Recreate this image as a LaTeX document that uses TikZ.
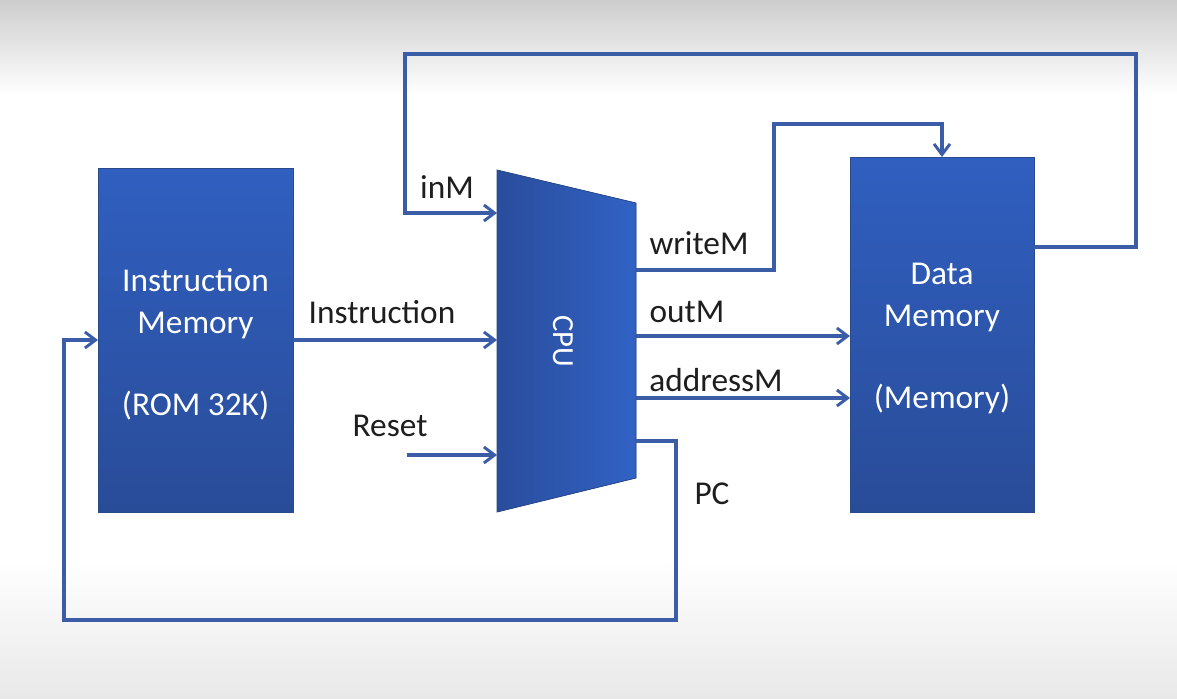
\documentclass[tikz,border=0pt]{standalone}
\usepackage{fontspec}
\setmainfont{Carlito}
\usetikzlibrary{arrows.meta,calc}
\definecolor{wire}{HTML}{3B5DA8}
\definecolor{boxtop}{HTML}{305FC0}
\definecolor{boxbot}{HTML}{294C98}
\definecolor{boxline}{HTML}{2A4A8C}
\definecolor{cpuL}{HTML}{2A4D9C}
\definecolor{cpuR}{HTML}{3162C4}
\definecolor{bgtop}{HTML}{CDCDCD}
\definecolor{bgbot}{HTML}{E8E8E8}
\definecolor{lbl}{HTML}{1E1E1E}
\tikzset{
  wire/.style={draw=wire,line width=2.4pt,line join=miter},
  arr/.style={wire,-{Straight Barb[length=8pt,width=12pt,line width=2.2pt]}},
  membox/.style={draw=boxline,line width=0.6pt,top color=boxtop,bottom color=boxbot,
    outer sep=0pt,inner sep=0pt},
  memtext/.style={text=white,align=center,inner sep=0pt,
    font=\fontsize{25}{31.5}\selectfont},
  lab/.style={text=lbl,font=\fontsize{25}{30}\selectfont,inner sep=0pt}
}
\begin{document}
\begin{tikzpicture}[x=0.75pt,y=-0.75pt]
\useasboundingbox (0,0) rectangle (1177,699);
\fill[white] (0,0) rectangle (1177,699);
\shade[top color=bgtop,bottom color=white] (0,0) rectangle (1177,95);
\shade[top color=white,bottom color=bgbot] (0,560) rectangle (1177,699);

% memories
\node[membox,minimum width=146.25pt,minimum height=258pt] (im) at (195.5,340) {};
\node[memtext] (imtext) at ($(im.center)+(0,4)$) {Instruction\\Memory\\[30pt](ROM 32K)};
\node[membox,minimum width=138pt,minimum height=266.25pt] (dm) at (942,334.5) {};
\node[memtext] (dmtext) at ($(dm.center)+(0,4)$) {Data\\Memory\\[30pt](Memory)};

% CPU
\coordinate (cpuNW) at (497,170);
\coordinate (cpuNE) at (636,203);
\coordinate (cpuSE) at (636,478);
\coordinate (cpuSW) at (497,512);
\fill[left color=cpuL,right color=cpuR,draw=boxline,line width=0.6pt]
  (cpuNW) -- (cpuNE) -- (cpuSE) -- (cpuSW) -- cycle;
\node[text=white,rotate=-90,font=\fontsize{23}{27}\selectfont] (cpu) at (563,341) {CPU};

% CPU ports
\coordinate (pInM) at (497,213);
\coordinate (pInstr) at (497,340);
\coordinate (pReset) at (497,455);
\coordinate (pWrite) at (636,270);
\coordinate (pOut) at (636,336);
\coordinate (pAddr) at (636,398);
\coordinate (pPC) at (636,441);
\coordinate (resetSrc) at (407,455);

% wires
\draw[arr] ($(dm.north east)+(0,90)$) -| (1136,54) -| (405,213) -- (pInM);
\draw[arr] (pWrite) -| (774,124) -| (dm.north);
\draw[arr] (pOut) -- (dm.west |- pOut);
\draw[arr] (pAddr) -- (dm.west |- pAddr);
\draw[arr] (im.east) -- (pInstr);
\draw[arr] (resetSrc) -- (pReset);
\draw[arr] (pPC) -| (676,620) -| (64,340) -- (im.west);

% labels
\node[lab] (linM) at (447,187) {inM};
\node[lab] (lwrite) at (699,243) {writeM};
\node[lab] (lout) at (687,312) {outM};
\node[lab] (laddr) at (716,380) {addressM};
\node[lab] (linstr) at (382,312) {Instruction};
\node[lab] (lreset) at (390,426) {Reset};
\node[lab] (lpc) at (712,494) {PC};
\end{tikzpicture}
\end{document}
